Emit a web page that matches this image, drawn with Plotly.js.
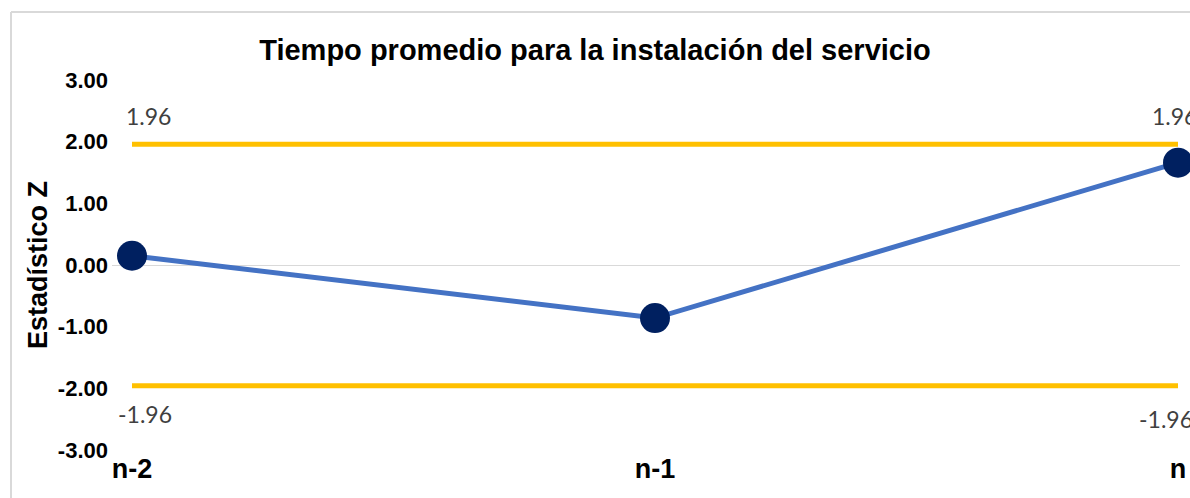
<!DOCTYPE html>
<html>
<head>
<meta charset="utf-8">
<script src="https://cdn.plot.ly/plotly-3.0.1.min.js"></script>
<style>html,body{margin:0;padding:0;background:#fff;}#chart{width:1190px;height:498px;}</style>
</head>
<body>
<div id="chart"></div>
<script>
const categories = ["n-2", "n-1", "n"];
const zValues = [0.15, -0.86, 1.66];
const upperLimit = [1.96, 1.96, 1.96];
const lowerLimit = [-1.96, -1.96, -1.96];
const upperLabels = ["1.96", "", "1.96"];
const lowerLabels = ["-1.96", "", "-1.96"];
const yTickVals = [-3, -2, -1, 0, 1, 2, 3];
const yTickText = ["-3.00", "-2.00", "-1.00", "0.00", "1.00", "2.00", "3.00"];

const xIdx = categories.map((c, i) => i);

const traces = [
  {x: xIdx, y: upperLimit, mode: "lines", line: {color: "#FFC000", width: 5}, hoverinfo: "skip", cliponaxis: false},
  {x: xIdx, y: lowerLimit, mode: "lines", line: {color: "#FFC000", width: 5}, hoverinfo: "skip", cliponaxis: false},
  {x: xIdx, y: zValues, mode: "lines+markers", line: {color: "#4472C4", width: 5},
   marker: {color: "#002060", size: 30}, cliponaxis: false}
];

const annotations = [];
const labelFont = {family: "Lato, 'Liberation Sans', sans-serif", size: 23, color: "#404040"};
const shiftsX = [16, 0, -4];
upperLabels.forEach((t, i) => {
  if (!t) return;
  annotations.push({x: xIdx[i], y: upperLimit[i], xref: "x", yref: "y", text: t, showarrow: false,
    xshift: shiftsX[i], yshift: 28, font: labelFont});
});
const shiftsXL = [13, 0, -12];
const shiftsYL = [-28, 0, -33];
lowerLabels.forEach((t, i) => {
  if (!t) return;
  annotations.push({x: xIdx[i], y: lowerLimit[i], xref: "x", yref: "y", text: t, showarrow: false,
    xshift: shiftsXL[i], yshift: shiftsYL[i], font: labelFont});
});

const boldFont = "'Liberation Sans', Arial, sans-serif";

const layout = {
  width: 1190, height: 498,
  margin: {l: 112, r: 10, t: 80, b: 48},
  paper_bgcolor: "#ffffff", plot_bgcolor: "#ffffff",
  showlegend: false,
  title: {text: "Tiempo promedio para la instalación del servicio",
    font: {family: boldFont, size: 29, color: "#000000", weight: "bold"},
    x: 0.5, xref: "container", xanchor: "center", y: 1 - 50/498, yref: "container", yanchor: "middle"},
  xaxis: {
    range: [-20/523, 2 + 2/523], tickvals: xIdx, ticktext: categories,
    showgrid: false, zeroline: false, showline: false, ticks: "",
    tickfont: {family: boldFont, size: 27, color: "#000", weight: "bold"},
    ticklabelstandoff: 0, fixedrange: true
  },
  yaxis: {
    range: [-3, 3], tickvals: yTickVals, ticktext: yTickText,
    showgrid: false, zeroline: true, zerolinecolor: "#D9D9D9", zerolinewidth: 1,
    showline: false, ticks: "",
    tickfont: {family: boldFont, size: 22, color: "#000", weight: "bold"},
    ticklabelstandoff: 3,
    title: {text: "Estadístico Z", font: {family: boldFont, size: 27, color: "#000", weight: "bold"}, standoff: 2},
    fixedrange: true
  },
  annotations: annotations,
  shapes: [
    {type: "line", xref: "paper", yref: "paper", x0: (11-112)/1068, x1: (11-112)/1068, y0: (450-12)/370, y1: -0.2, line: {color: "#D9D9D9", width: 2}, layer: "below"},
    {type: "line", xref: "paper", yref: "paper", x0: (11-112)/1068, x1: 1.1, y0: (450-12)/370, y1: (450-12)/370, line: {color: "#D9D9D9", width: 2}, layer: "below"}
  ]
};

Plotly.newPlot("chart", traces, layout, {displayModeBar: false, staticPlot: true});
</script>
</body>
</html>
